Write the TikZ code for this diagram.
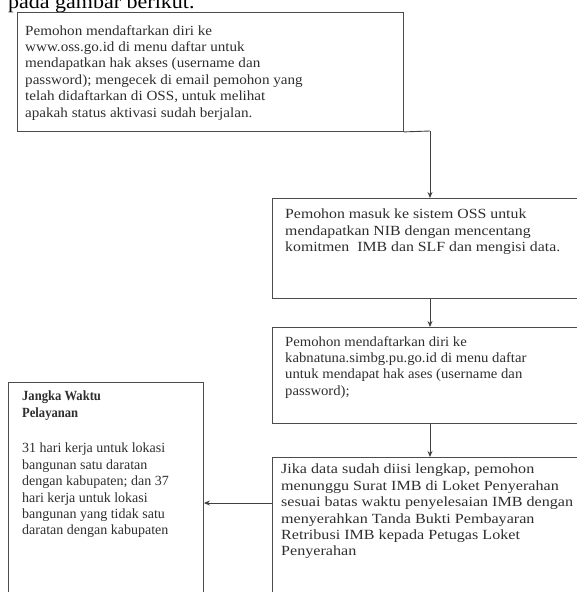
\documentclass[tikz,border=0pt]{standalone}
\usepackage{fontspec}
\setmainfont{Liberation Serif}
\newfontfamily\headfont{Liberation Serif}[FakeStretch=1.1]
\newfontfamily\fA{Liberation Serif}[FakeStretch=1.08]
\newfontfamily\fB{Liberation Serif}[FakeStretch=1.13]
\newfontfamily\fC{Liberation Serif}[FakeStretch=1.05]
\newfontfamily\fD{Liberation Serif}[FakeStretch=1.15]
\newfontfamily\fE{Liberation Serif}[FakeStretch=1.0]
\newfontfamily\fH{Liberation Serif}[FakeStretch=0.9]
\usetikzlibrary{arrows.meta}
\begin{document}
\begin{tikzpicture}[x=1pt,y=-1pt,
  box/.style={draw=black!70, line width=0.9pt, anchor=north west, inner sep=0pt, rectangle},
  txt/.style={anchor=north west, inner sep=0pt, align=left, text=black!82,
    font=#1\fontsize{14}{16.4}\selectfont},
  conn/.style={draw=black!75, line width=0.9pt},
  arr/.style={conn, -{Stealth[length=6pt,width=5pt]}}]
\useasboundingbox (0,0) rectangle (577,592);
\clip (0,0) rectangle (577,592);
% partial heading at top
\node[anchor=base west, inner sep=0pt, font=\headfont\fontsize{20}{22}\selectfont] (hd) at (8,8) {pada gambar berikut.};
% boxes
\node[box, minimum width=386pt, minimum height=119pt] (b1) at (17,12) {};
\node[box, minimum width=330pt, minimum height=100pt] (b2) at (272,198) {};
\node[box, minimum width=330pt, minimum height=96pt] (b3) at (272,327) {};
\node[box, minimum width=330pt, minimum height=160pt] (b4) at (272,457) {};
\node[box, minimum width=195pt, minimum height=230pt] (b5) at (8,382) {};
% texts
\node[txt=\fA] (t1) at (25,25) {Pemohon mendaftarkan diri ke\\www.oss.go.id di menu daftar untuk\\mendapatkan hak akses (username dan\\password); mengecek di email pemohon yang\\telah didaftarkan di OSS, untuk melihat\\apakah status aktivasi sudah berjalan.};
\node[txt=\fB] (t2) at (285,209) {Pemohon masuk ke sistem OSS untuk\\mendapatkan NIB dengan mencentang\\komitmen\ \ IMB dan SLF dan mengisi data.};
\node[txt=\fC] (t3) at (285,336) {Pemohon mendaftarkan diri ke\\kabnatuna.simbg.pu.go.id di menu daftar\\untuk mendapat hak ases (username dan\\password);};
\node[txt=\fD] (t4) at (281,464) {Jika data sudah diisi lengkap, pemohon\\menunggu Surat IMB di Loket Penyerahan\\sesuai batas waktu penyelesaian IMB dengan\\menyerahkan Tanda Bukti Pembayaran\\Retribusi IMB kepada Petugas Loket\\Penyerahan};
\node[txt=\fH\bfseries] (t5a) at (22,391) {Jangka Waktu\\Pelayanan};
\node[txt=\fE] (t5b) at (22,443) {31 hari kerja untuk lokasi\\bangunan satu daratan\\dengan kabupaten; dan 37\\hari kerja untuk lokasi\\bangunan yang tidak satu\\daratan dengan kabupaten};
% connectors
\coordinate (j1) at (430,131);
\draw[conn] (b1.south east) -- (j1);
\draw[arr] (j1) -- (j1 |- b2.north);
\draw[arr] (b2.south -| j1) -- (b3.north -| j1);
\draw[arr] (b3.south -| j1) -- (b4.north -| j1);
\coordinate (j2) at ([yshift=-46pt]b4.north west);
\draw[arr] (j2) -- (j2 -| b5.east);
\end{tikzpicture}
\end{document}
